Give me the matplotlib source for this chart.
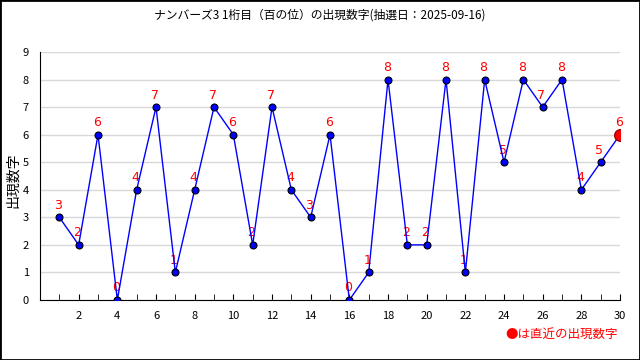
import matplotlib.pyplot as plt
from matplotlib.patches import Rectangle

plt.rcParams['font.family'] = ['Noto Sans CJK JP', 'DejaVu Sans']

# Draw numbers (hundreds digit), draws 1..30
draws = list(range(1, 31))
digits = [3, 2, 6, 0, 4, 7, 1, 4, 7, 6, 2, 7, 4, 3, 6, 0, 1, 8, 2, 2,
          8, 1, 8, 5, 8, 7, 8, 4, 5, 6]

title = 'ナンバーズ3 1桁目（百の位）の出現数字(抽選日：2025-09-16)'
ylabel = '出現数字'
note = '●は直近の出現数字'

fig = plt.figure(figsize=(6.4, 3.6), dpi=100)
ax = fig.add_axes([0.0625, 0.1667, 0.9063, 0.6889])

ax.plot(draws, digits, color='#0000ff', linewidth=1, marker='o',
        markersize=5, markerfacecolor='#0000ff', markeredgecolor='black',
        markeredgewidth=0.8, zorder=3)
# latest draw highlighted
ax.plot(draws[-1], digits[-1], 'o', color='red', markersize=8.5,
        markeredgecolor='#800000', markeredgewidth=0.8, zorder=4)

for x, y in zip(draws, digits):
    ax.annotate(str(y), (x, y), xytext=(-1, 4), textcoords='offset points',
                ha='center', va='bottom', color='red', fontsize=9,
                family='DejaVu Sans', zorder=2)

ax.set_xlim(0, 30)
ax.set_ylim(0, 9)
ax.set_xticks(range(2, 31, 2))
ax.set_xticks(range(1, 31), minor=True)
ax.set_yticks(range(0, 10))
ax.tick_params(axis='x', direction='in', length=4, labelsize=8, pad=8)
ax.tick_params(axis='x', which='minor', direction='in', length=4)
ax.tick_params(axis='y', length=0, labelsize=8, pad=8)
ax.grid(axis='y', color='#d8d8d8', linewidth=1)
ax.set_axisbelow(True)
for s in ['top', 'right']:
    ax.spines[s].set_visible(False)

fig.text(0.021, 0.5, ylabel, rotation=90, ha='center', va='center', fontsize=10)
fig.text(0.5, 0.958, title, ha='center', va='center', fontsize=8.5)
fig.text(0.966, 0.07, note, ha='right', va='center', fontsize=9, color='red')

fig.patches.append(Rectangle((0, 0), 1, 1, transform=fig.transFigure,
                             fill=False, edgecolor='black', linewidth=2))

fig.savefig('out.png', dpi=100)
